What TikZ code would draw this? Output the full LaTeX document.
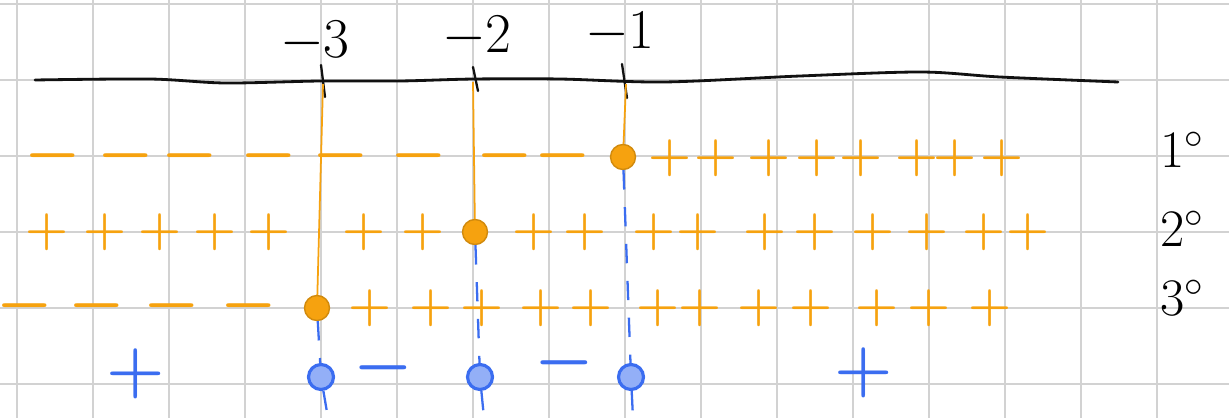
\RequirePackage{fix-cm}
\documentclass[tikz,border=0pt]{standalone}
\usepackage{xcolor}
\usetikzlibrary{arrows.meta,positioning}
\definecolor{Rule}{HTML}{D2D2D2}
\definecolor{Pen}{HTML}{111111}
\definecolor{Marker}{HTML}{F6A20F}
\definecolor{Biro}{HTML}{3B6DF0}

\begin{document}
\begin{tikzpicture}[x=0.02cm,y=-0.02cm,
  gridline/.style={Rule,line width=1.3pt},
  axisline/.style={Pen,line width=1.6pt,line cap=round},
  tickline/.style={Pen,line width=1.3pt,line cap=round},
  rootline/.style={Marker,line width=1.0pt},
  zeroline/.style={Biro,line width=1.3pt,dash pattern=on 11pt off 10pt},
  sign/.style={inner sep=0pt,font=\fontsize{28}{28}\selectfont\boldmath},
  wide/.style={font=\fontsize{36}{36}\selectfont\boldmath},
  orangesign/.style={sign,text=Marker},
  bluesign/.style={sign,text=Biro,font=\fontsize{38}{38}\selectfont\boldmath},
  rootdot/.style={circle,minimum size=0.5cm,inner sep=0pt,fill=Marker,draw=Marker!85!black,line width=0.8pt},
  zerodot/.style={circle,minimum size=0.5cm,inner sep=0pt,fill=Biro!55,draw=Biro,line width=1.8pt},
  ticklabel/.style={inner sep=0pt,font=\fontsize{32}{32}\selectfont},
  rowlabel/.style={anchor=west,inner sep=0pt,font=\fontsize{30}{30}\selectfont}]
\useasboundingbox (0,0) rectangle (1229,418);

% squared paper
\foreach \gx in {17,93,...,1157} \draw[gridline] (\gx,0) -- (\gx,418);
\foreach \gy in {4,80,...,384} \draw[gridline] (0,\gy) -- (1229,\gy);

% number line
\draw[axisline] plot[smooth] coordinates {(35,80) (150,79) (225,83) (320,81) (400,81) (474,79) (560,79) (664,82) (800,76) (921,72) (1000,77) (1118,82)};
\draw[tickline] (321,65) -- (325,97);
\draw[tickline] (473,67) -- (478,91);
\draw[tickline] (622,64) -- (627,98);
\node[ticklabel] (lm3) at (315,42) {$-3$};
\node[ticklabel] (lm2) at (477,37) {$-2$};
\node[ticklabel] (lm1) at (620,33) {$-1$};
\coordinate (t3) at (323,84);
\coordinate (t2) at (473,82);
\coordinate (t1) at (626,84);

% row labels
\node[rowlabel] (r1) at (1160,150) {$1^{\circ}$};
\node[rowlabel] (r2) at (1160,229) {$2^{\circ}$};
\node[rowlabel] (r3) at (1160,298) {$3^{\circ}$};

% roots
\node[rootdot] (o1) at (623,157) {};
\node[rootdot] (o2) at (475,232) {};
\node[rootdot] (o3) at (317,308) {};
\node[zerodot] (b1) at (631,377) {};
\node[zerodot] (b2) at (480,377) {};
\node[zerodot] (b3) at (321,377) {};
\coordinate (e1) at (633,418);
\coordinate (e2) at (484,418);
\coordinate (e3) at (328,418);

\draw[rootline] (t3) -- (o3);
\draw[rootline] (t2) -- (o2);
\draw[rootline] (t1) -- (o1);
\draw[zeroline] (o1) -- (b1) -- (e1);
\draw[zeroline] (o2) -- (b2) -- (e2);
\draw[zeroline] (o3) -- (b3) -- (e3);

% row 1
\foreach \sx [count=\i] in {53,126,190,269,341,419,505,563}
  \node[orangesign,wide] (a\i) at (\sx,156) {$-$};
\foreach \sx [count=\i] in {670,716,769,817,861,917,955,1002}
  \node[orangesign] (b\i) at (\sx,158) {$+$};

% row 2
\foreach \sx [count=\i] in {47,105,160,215,269,364,423,534,585,654,698,765,815,873,927,984,1028}
  \node[orangesign] (c\i) at (\sx,232) {$+$};

% row 3
\foreach \sx [count=\i] in {25,97,172,249}
  \node[orangesign,wide] (d\i) at (\sx,306) {$-$};
\foreach \sx [count=\i] in {370,431,482,541,591,658,700,759,811,877,929,990}
  \node[orangesign] (f\i) at (\sx,308) {$+$};

% product row
\node[bluesign] (g1) at (136,374) {$+$};
\node[bluesign] (g2) at (383,368) {$-$};
\node[bluesign] (g3) at (564,363) {$-$};
\node[bluesign] (g4) at (864,373) {$+$};
\end{tikzpicture}
\end{document}
